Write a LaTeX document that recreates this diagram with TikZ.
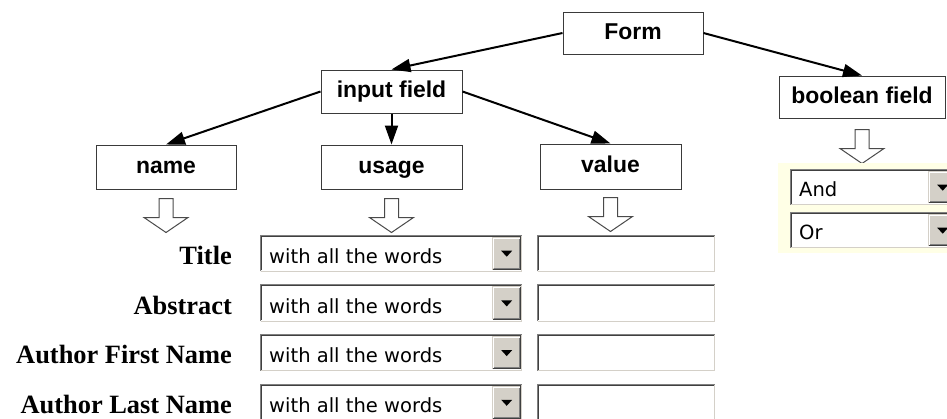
\documentclass[tikz,border=0pt]{standalone}
\usepackage{fontspec}
\usetikzlibrary{arrows.meta}
\newfontfamily\boxfont{Liberation Sans}
\newfontfamily\tagfont{Liberation Serif}
\newfontfamily\guifont{DejaVu Sans}
\definecolor{ink}{HTML}{000000}
\definecolor{frame}{HTML}{3A3A3A}
\definecolor{muted}{HTML}{4A4A4A}
\definecolor{winface}{HTML}{D4D0C8}
\definecolor{winshade}{HTML}{808080}
\definecolor{windark}{HTML}{404040}
\definecolor{cream}{HTML}{FFFFE6}
\newcommand{\boxsize}{\fontsize{23}{27}\selectfont}
\newcommand{\tagsize}{\fontsize{26.5}{30}\selectfont}
\newcommand{\guisize}{\fontsize{19.6}{23}\selectfont}
% sunken well (text box / drop-down) and raised knob, Windows style
\newcommand{\sunken}[1]{%
  \draw[winface, line width=1bp] ([shift={(.5bp,.5bp)}]#1.south west) -| ([shift={(-.5bp,-.5bp)}]#1.north east);
  \draw[winshade, line width=1bp] ([shift={(.5bp,.5bp)}]#1.south west) |- ([shift={(-.5bp,-.5bp)}]#1.north east);
  \draw[windark, line width=1.2bp] ([shift={(1.6bp,1.6bp)}]#1.south west) |- ([shift={(-1.6bp,-1.6bp)}]#1.north east);
}
\newcommand{\raised}[1]{%
  \draw[windark, line width=1bp] ([shift={(.5bp,.5bp)}]#1.south west) -| ([shift={(-.5bp,-.5bp)}]#1.north east);
  \draw[winshade, line width=1bp] ([shift={(1.5bp,1.5bp)}]#1.south west) -| ([shift={(-1.5bp,-1.5bp)}]#1.north east);
  \draw[white, line width=1bp] ([shift={(1.5bp,1.5bp)}]#1.south west) |- ([shift={(-1.5bp,-1.5bp)}]#1.north east);
  \fill[ink] ([shift={(-5.5bp,2.5bp)}]#1.center) -- ++(11bp,0) -- ++(-5.5bp,-6bp) -- cycle;
}
\tikzset{
  every picture/.style = {line join=miter},
  box/.style           = {draw=frame, line width=1bp, fill=white, inner sep=0pt,
                          text height=16.5bp, text depth=4bp,
                          font=\boxfont\bfseries\boxsize},
  link/.style          = {line width=2bp, -{Triangle[length=19bp, width=13bp]}},
  hollow/.style        = {draw=muted, line width=1bp, fill=white},
  tag/.style           = {anchor=base east, inner sep=0pt, font=\tagfont\bfseries\tagsize},
  gui/.style           = {anchor=base west, inner sep=0pt, font=\guifont\guisize},
  well/.style          = {fill=white, inner sep=0pt, anchor=north west},
  knob/.style          = {fill=winface, inner sep=0pt, anchor=north east,
                          minimum width=29bp, minimum height=33bp},
}

\begin{document}
\begin{tikzpicture}[x=1bp, y=-1bp]
  \useasboundingbox (0,0) rectangle (947,418);
  \clip (0,0) rectangle (947,418);

  % ---------- the tree of form parts -----------------------------------------
  \node[box, minimum width=140bp, minimum height=42bp] (form)  at (633,33)    {Form};
  \node[box, minimum width=141bp, minimum height=43bp] (input) at (391.5,91.5) {input field};
  \node[box, minimum width=166bp, minimum height=42bp] (bool)  at (862,97)    {boolean field};
  \node[box, minimum width=140bp, minimum height=44bp] (name)  at (166,167)   {name};
  \node[box, minimum width=141bp, minimum height=44bp] (usage) at (391.5,167) {usage};
  \node[box, minimum width=141bp, minimum height=45bp] (value) at (610.5,166.5) {value};

  \draw[link] (form.west)  -- (input.north);
  \draw[link] (form.east)  -- (bool.north);
  \draw[link] (input.west) -- (name.north);
  \draw[link] (input.south) -- (usage.north);
  \draw[link] (input.east) -- (value.north);

  % hollow arrows down to the widgets
  \foreach \n/\gap in {name/9, usage/9, value/8, bool/11}
    \draw[hollow] ([yshift=-\gap bp]\n.south) ++(-7,0) -- ++(0,19) -- ++(-15,0)
      -- ++(22,15) -- ++(22,-15) -- ++(-15,0) -- ++(0,-19) -- cycle;

  % ---------- the query rows --------------------------------------------------
  \foreach \lbl [count=\i from 0] in {Title, Abstract, Author First Name, Author Last Name} {
    \pgfmathsetmacro{\Ty}{234.5+49.7*\i}
    \node[tag] (lbl\i) at (232,{\Ty+30}) {\lbl};
    \node[well, minimum width=262bp, minimum height=37bp] (sel\i) at (260,\Ty) {};
    \node[well, minimum width=178bp, minimum height=37bp] (fld\i) at (537,\Ty) {};
    \sunken{sel\i}
    \sunken{fld\i}
    \node[knob] (btn\i) at ([shift={(-1bp,-2bp)}]sel\i.north east) {};
    \raised{btn\i}
    \node[gui] (txt\i) at ([shift={(9bp,-29bp)}]sel\i.north west) {with all the words};
  }

  % ---------- the boolean choices ---------------------------------------------
  \fill[cream] (778,163) rectangle (947,253);
  \foreach \op/\Ty in {And/169, Or/212} {
    \node[well, minimum width=168bp, minimum height=36bp] (op\op) at (790,\Ty) {};
    \sunken{op\op}
    \node[knob, minimum height=32bp] (opbtn\op) at ([shift={(-1bp,-2bp)}]op\op.north east) {};
    \raised{opbtn\op}
    \node[gui] (optxt\op) at ([shift={(9bp,-27bp)}]op\op.north west) {\op};
  }
\end{tikzpicture}
\end{document}
